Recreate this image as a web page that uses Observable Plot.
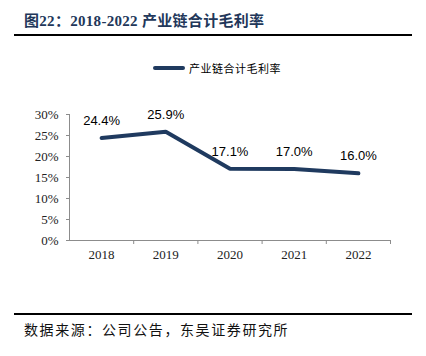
<!DOCTYPE html>
<html>
<head>
<meta charset="utf-8">
<script src="https://cdn.jsdelivr.net/npm/d3@7"></script>
<script src="https://cdn.jsdelivr.net/npm/@observablehq/plot@0.6"></script>
<style>
  html, body { margin: 0; padding: 0; background: #fff; }
  #wrap { position: relative; width: 426px; height: 356px; overflow: hidden; background: #fff; }
  #title { position: absolute; left: 24px; top: 9px; font-family: "Liberation Serif", "Noto Sans CJK SC", serif; font-weight: bold; font-size: 15px; color: #22375a; white-space: nowrap; letter-spacing: 0.3px; }
  .rule { position: absolute; left: 14px; width: 398px; background: #000; }
  #legend { position: absolute; left: 153px; top: 60px; height: 16px; display: flex; align-items: center; white-space: nowrap; }
  #legend .sw { width: 32px; height: 4px; background: #1f3a5f; margin-right: 4px; border-radius: 2px; }
  #legend span { font-family: "Noto Sans CJK SC", sans-serif; font-size: 11px; color: #000; letter-spacing: 0.5px; }
  #chart { position: absolute; left: 0; top: 80px; }
  #source { position: absolute; left: 24px; top: 319px; font-family: "Noto Sans CJK SC", sans-serif; font-size: 14px; color: #111; letter-spacing: 1.6px; white-space: nowrap; }
</style>
</head>
<body>
<div id="wrap">
  <div id="title">图22：2018-2022 产业链合计毛利率</div>
  <div class="rule" style="top:34px;height:2px;"></div>
  <div id="legend"><div class="sw"></div><span>产业链合计毛利率</span></div>
  <div id="chart"></div>
  <div class="rule" style="top:313px;height:1.5px;"></div>
  <div id="source">数据来源：公司公告，东吴证券研究所</div>
</div>
<script>
const years = [2018, 2019, 2020, 2021, 2022];
const margins = [24.4, 25.9, 17.1, 17.0, 16.0];
const yTicks = [0, 5, 10, 15, 20, 25, 30];
const seriesName = "产业链合计毛利率";

const data = years.map((y, i) => ({year: y, value: margins[i]}));
const boundaries = years.map(y => y + 0.5);
const lineColor = "#1f3a5f";
const axisColor = "#8c8c8c";

const chart = Plot.plot({
  width: 426,
  height: 190,
  marginTop: 34,
  marginBottom: 30,
  marginLeft: 69,
  marginRight: 36,
  x: {domain: [years[0] - 0.5, years[years.length - 1] + 0.5]},
  y: {domain: [0, 30]},
  style: {fontFamily: "Liberation Serif, serif", fontSize: "13px", color: "#222", background: "#fff"},
  marks: [
    Plot.ruleY([0], {stroke: axisColor, strokeWidth: 1}),
    Plot.ruleX([years[0] - 0.5], {stroke: axisColor, strokeWidth: 1}),
    Plot.axisY({ticks: yTicks, tickFormat: d => d + "%", tickSize: 3, tickPadding: 8, stroke: axisColor, label: null, fontSize: 13, fontFamily: "Liberation Serif, serif"}),
    Plot.axisX({ticks: boundaries, tickFormat: () => "", tickSize: 4, stroke: axisColor, label: null}),
    Plot.axisX({ticks: years, tickFormat: d => String(d), tickSize: 0, tickPadding: 9, label: null, fontSize: 13, fontFamily: "Liberation Serif, serif"}),
    Plot.line(data, {x: "year", y: "value", stroke: lineColor, strokeWidth: 4, strokeLinejoin: "miter", strokeLinecap: "round"}),
    Plot.text(data, {x: "year", y: "value", text: d => d.value.toFixed(1) + "%", dy: -17, fontFamily: "Liberation Sans, Arial, sans-serif", fontSize: 13, fill: "#000"})
  ]
});
document.getElementById("chart").appendChild(chart);
</script>
</body>
</html>
